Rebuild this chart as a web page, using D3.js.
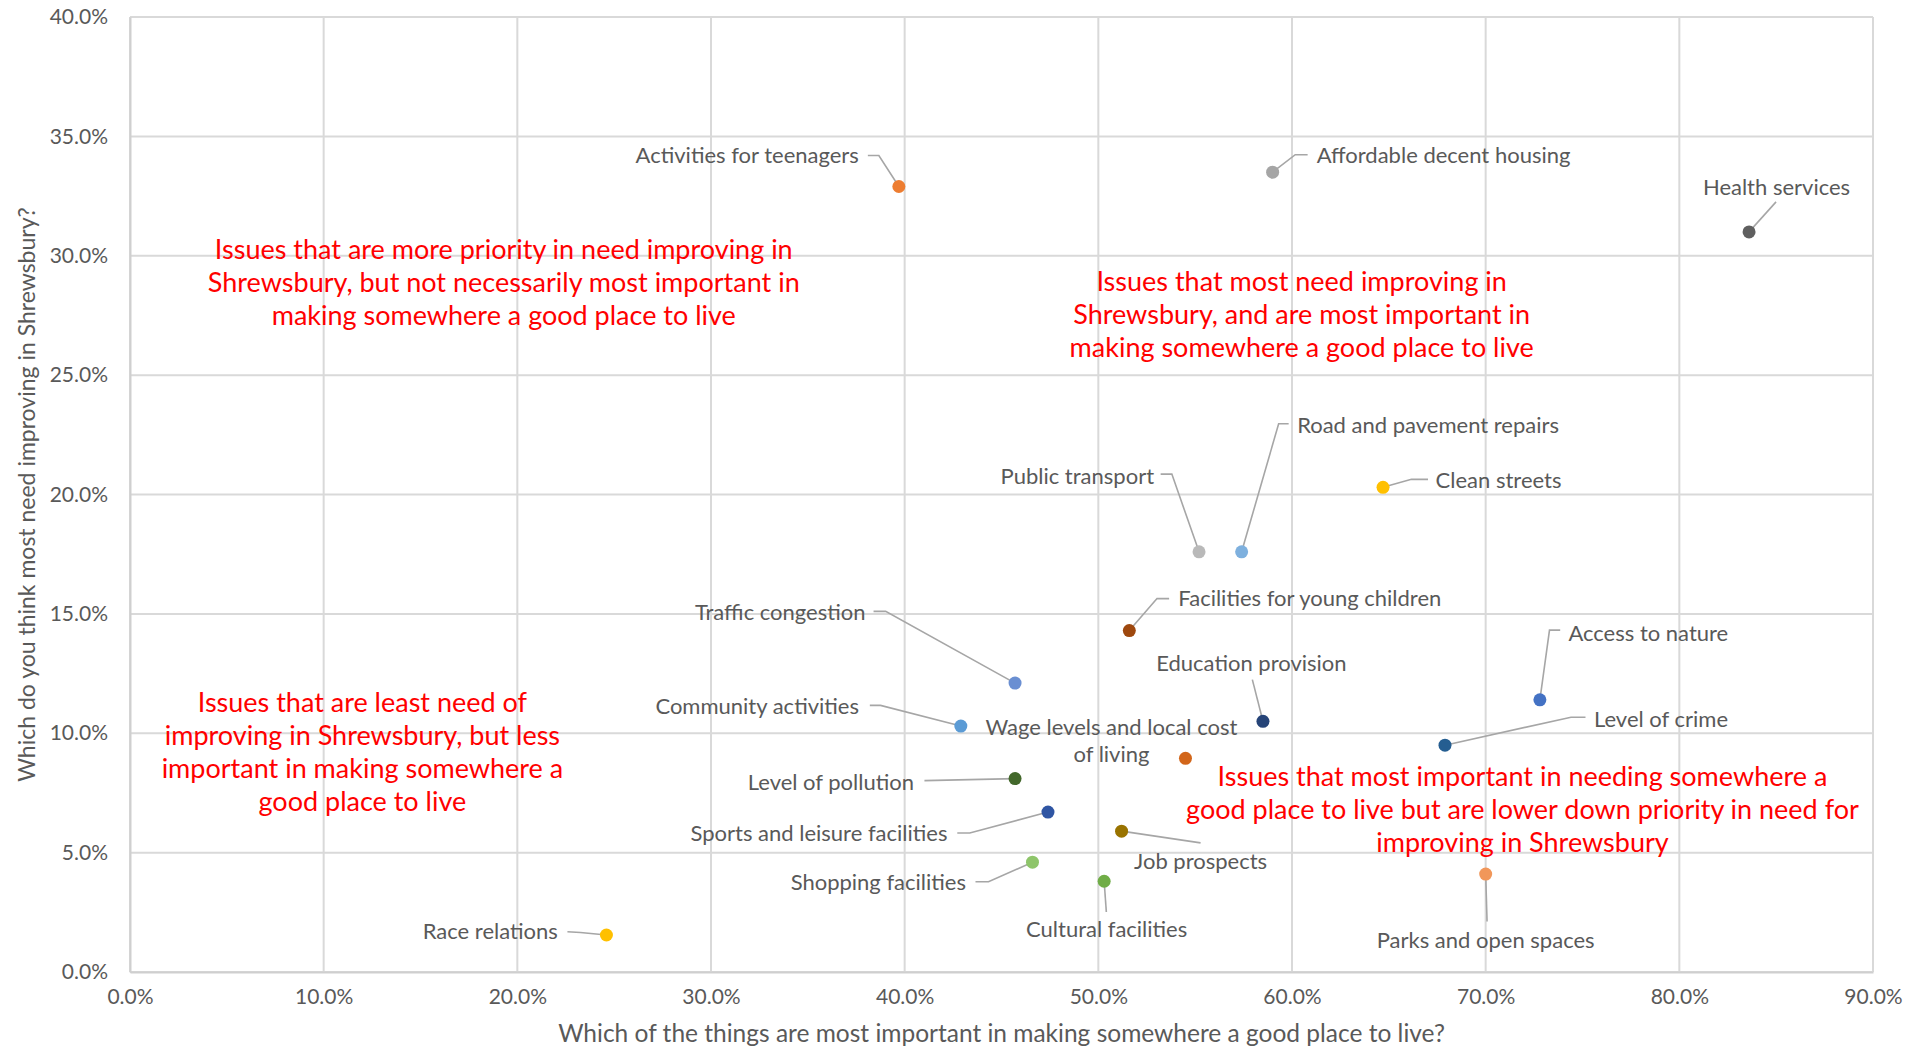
<!DOCTYPE html>
<html>
<head>
<meta charset="utf-8">
<script src="https://cdn.jsdelivr.net/npm/d3@7"></script>
<style>
  html, body { margin: 0; padding: 0; background: #fff; }
  svg { display: block; font-family: Lato, "Open Sans", sans-serif; }
</style>
</head>
<body>
<svg id="chart" width="1907" height="1049"></svg>
<script>
// ---------- DATA ----------
const issues = [
  "Activities for teenagers", "Affordable decent housing", "Health services",
  "Road and pavement repairs", "Public transport", "Clean streets",
  "Facilities for young children", "Traffic congestion", "Community activities",
  "Education provision", "Access to nature", "Level of crime",
  "Wage levels and local cost of living", "Level of pollution",
  "Sports and leisure facilities", "Job prospects", "Shopping facilities",
  "Cultural facilities", "Parks and open spaces", "Race relations"
];
// x: Which of the things are most important in making somewhere a good place to live? (%)
const importance = [
  39.7, 59.0, 83.6,
  57.4, 55.2, 64.7,
  51.6, 45.7, 42.9,
  58.5, 72.8, 67.9,
  54.5, 45.7,
  47.4, 51.2, 46.6,
  50.3, 70.0, 24.6
];
// y: Which do you think most need improving in Shrewsbury? (%)
const needImproving = [
  32.9, 33.5, 31.0,
  17.6, 17.6, 20.3,
  14.3, 12.1, 10.3,
  10.5, 11.4, 9.5,
  8.95, 8.1,
  6.7, 5.9, 4.6,
  3.8, 4.1, 1.55
];
const pointColors = [
  "#ED7D31", "#A5A5A5", "#5F5F5F",
  "#7EB0DE", "#B9B9B9", "#FFC000",
  "#9E480E", "#6A8FD2", "#5B9BD5",
  "#264478", "#4472C4", "#255E91",
  "#D2661A", "#43682B",
  "#2F55A3", "#997300", "#8EC56A",
  "#70AD47", "#F1975A", "#FFC000"
];
const xTicks = [0, 10, 20, 30, 40, 50, 60, 70, 80, 90];
const yTicks = [0, 5, 10, 15, 20, 25, 30, 35, 40];
const xTitle = "Which of the things are most important in making somewhere a good place to live?";
const yTitle = "Which do you think most need improving in Shrewsbury?";
const quadrantTexts = [
  ["Issues that are more priority in need improving in",
   "Shrewsbury, but not necessarily most important in",
   "making somewhere a good place to live"],
  ["Issues that most need improving in",
   "Shrewsbury, and are most important in",
   "making somewhere a good place to live"],
  ["Issues that are least need of",
   "improving in Shrewsbury, but less",
   "important in making somewhere a",
   "good place to live"],
  ["Issues that most important in needing somewhere a",
   "good place to live but are lower down priority in need for",
   "improving in Shrewsbury"]
];

// ---------- LAYOUT (pixel offsets from each point) ----------
const labelLayout = [
  {anchor:"end",    dx:-40,   dy:-31,   leader:[[-31,-31],[-20,-31]]},
  {anchor:"start",  dx:44,    dy:-17,   leader:[[35,-17.5],[22.6,-17.5]]},
  {anchor:"middle", dx:27.5,  dy:-45,   leader:[[27,-30]]},
  {anchor:"start",  dx:55.5,  dy:-127,  leader:[[47,-128],[37,-128]]},
  {anchor:"end",    dx:-45,   dy:-76,   leader:[[-38.4,-77.7],[-27.2,-77.7]]},
  {anchor:"start",  dx:52.6,  dy:-7,    leader:[[45,-8],[28.4,-8]]},
  {anchor:"start",  dx:49,    dy:-32,   leader:[[39.8,-32],[27.7,-32]]},
  {anchor:"end",    dx:-149.5,dy:-70.5, leader:[[-141.5,-71.7],[-129.4,-71.7]]},
  {anchor:"end",    dx:-101.8,dy:-19.3, leader:[[-91,-20.7],[-80.3,-20.7]]},
  {anchor:"middle", dx:-11.5, dy:-58,   leader:[[-10.6,-41.7]]},
  {anchor:"start",  dx:28.5,  dy:-67,   leader:[[20.3,-69.7],[9.6,-69.7]]},
  {anchor:"start",  dx:149,   dy:-26,   leader:[[140.5,-28],[126,-28]]},
  {anchor:"middle", dx:-74,   dy:-31,   leader:null, lines:["Wage levels and local cost","of living"]},
  {anchor:"end",    dx:-101,  dy:3.6,   leader:[[-90.6,2]]},
  {anchor:"end",    dx:-100.5,dy:21,    leader:[[-90.7,21],[-78.2,21]]},
  {anchor:"middle", dx:79,    dy:29.7,  leader:[[79,11.7]]},
  {anchor:"end",    dx:-66.5, dy:20.3,  leader:[[-57,19.6],[-44,19.6]]},
  {anchor:"middle", dx:2.5,   dy:48,    leader:[[2.2,30.7]]},
  {anchor:"middle", dx:0,     dy:66,    leader:[[1.4,47.4]]},
  {anchor:"end",    dx:-48.6, dy:-3.3,  leader:[[-39,-3.3],[-26,-2.5]]}
];
// quadrant text block centres in data units (x%, y% of first line)
const quadrantPos = [[19.3, 30.25], [60.5, 28.9], [12.0, 11.3], [71.9, 8.2]];

// ---------- CHART ----------
const W = 1907, H = 1049;
const margin = {left: 130, right: 1907 - 1873, top: 17, bottom: 1049 - 972};
const svg = d3.select("#chart");
const x = d3.scaleLinear().domain([0, 90]).range([margin.left, W - margin.right]);
const y = d3.scaleLinear().domain([0, 40]).range([H - margin.bottom, margin.top]);

const textGray = "#595959";
const gridColor = "#D9D9D9";

// gridlines
const g = svg.append("g");
g.selectAll("line.vg").data(xTicks).join("line")
  .attr("x1", d => x(d)).attr("x2", d => x(d))
  .attr("y1", y(0)).attr("y2", y(40))
  .attr("stroke", gridColor).attr("stroke-width", 2);
g.selectAll("line.hg").data(yTicks).join("line")
  .attr("x1", x(0)).attr("x2", x(90))
  .attr("y1", d => y(d)).attr("y2", d => y(d))
  .attr("stroke", gridColor).attr("stroke-width", 2);

// axes
const fmt = d => d.toFixed(1) + "%";
const xAxis = svg.append("g").attr("transform", `translate(0,${y(0)})`)
  .call(d3.axisBottom(x).tickValues(xTicks).tickFormat(fmt).tickSize(0).tickPadding(17));
const yAxis = svg.append("g").attr("transform", `translate(${x(0)},0)`)
  .call(d3.axisLeft(y).tickValues(yTicks).tickFormat(fmt).tickSize(0).tickPadding(22));
[xAxis, yAxis].forEach(a => {
  a.select(".domain").attr("stroke", "#CFCFCF").attr("stroke-width", 2);
  a.selectAll("text").attr("fill", textGray).attr("font-size", 21)
    .attr("font-family", "Lato, sans-serif");
});
xAxis.selectAll("text").attr("dy", "0.71em");

// axis titles
svg.append("text").attr("x", (x(0) + x(90)) / 2).attr("y", 1042)
  .attr("text-anchor", "middle").attr("fill", textGray).attr("font-size", 24.5)
  .text(xTitle);
svg.append("text")
  .attr("transform", `translate(27,${(y(0) + y(40)) / 2}) rotate(-90)`)
  .attr("dy", "0.35em").attr("text-anchor", "middle").attr("fill", textGray)
  .attr("font-size", 23).text(yTitle);

// quadrant annotations
quadrantTexts.forEach((lines, i) => {
  const t = svg.append("text").attr("text-anchor", "middle").attr("fill", "#FF0000")
    .attr("font-size", 27);
  lines.forEach((ln, j) => {
    t.append("tspan").attr("x", x(quadrantPos[i][0]))
      .attr("y", y(quadrantPos[i][1]) + j * 33).attr("dy", "0.35em").text(ln);
  });
});

// leader lines
const pts = issues.map((name, i) => ({name, i, px: x(importance[i]), py: y(needImproving[i])}));
svg.append("g").selectAll("path").data(pts.filter(p => labelLayout[p.i].leader)).join("path")
  .attr("d", p => {
    const L = labelLayout[p.i].leader.map(([a, b]) => [p.px + a, p.py + b]);
    L.push([p.px, p.py]);
    return d3.line()(L);
  })
  .attr("fill", "none").attr("stroke", "#A6A6A6").attr("stroke-width", 1.6);

// labels
const lab = svg.append("g").attr("fill", textGray).attr("font-size", 22);
pts.forEach(p => {
  const L = labelLayout[p.i];
  const t = lab.append("text").attr("text-anchor", L.anchor);
  const lines = L.lines || [p.name];
  lines.forEach((ln, j) => {
    t.append("tspan").attr("x", p.px + L.dx).attr("y", p.py + L.dy + j * 27)
      .attr("dy", "0.35em").text(ln);
  });
});

// points
svg.append("g").selectAll("circle").data(pts).join("circle")
  .attr("cx", p => p.px).attr("cy", p => p.py).attr("r", 6.5)
  .attr("fill", p => pointColors[p.i]);
</script>
</body>
</html>
